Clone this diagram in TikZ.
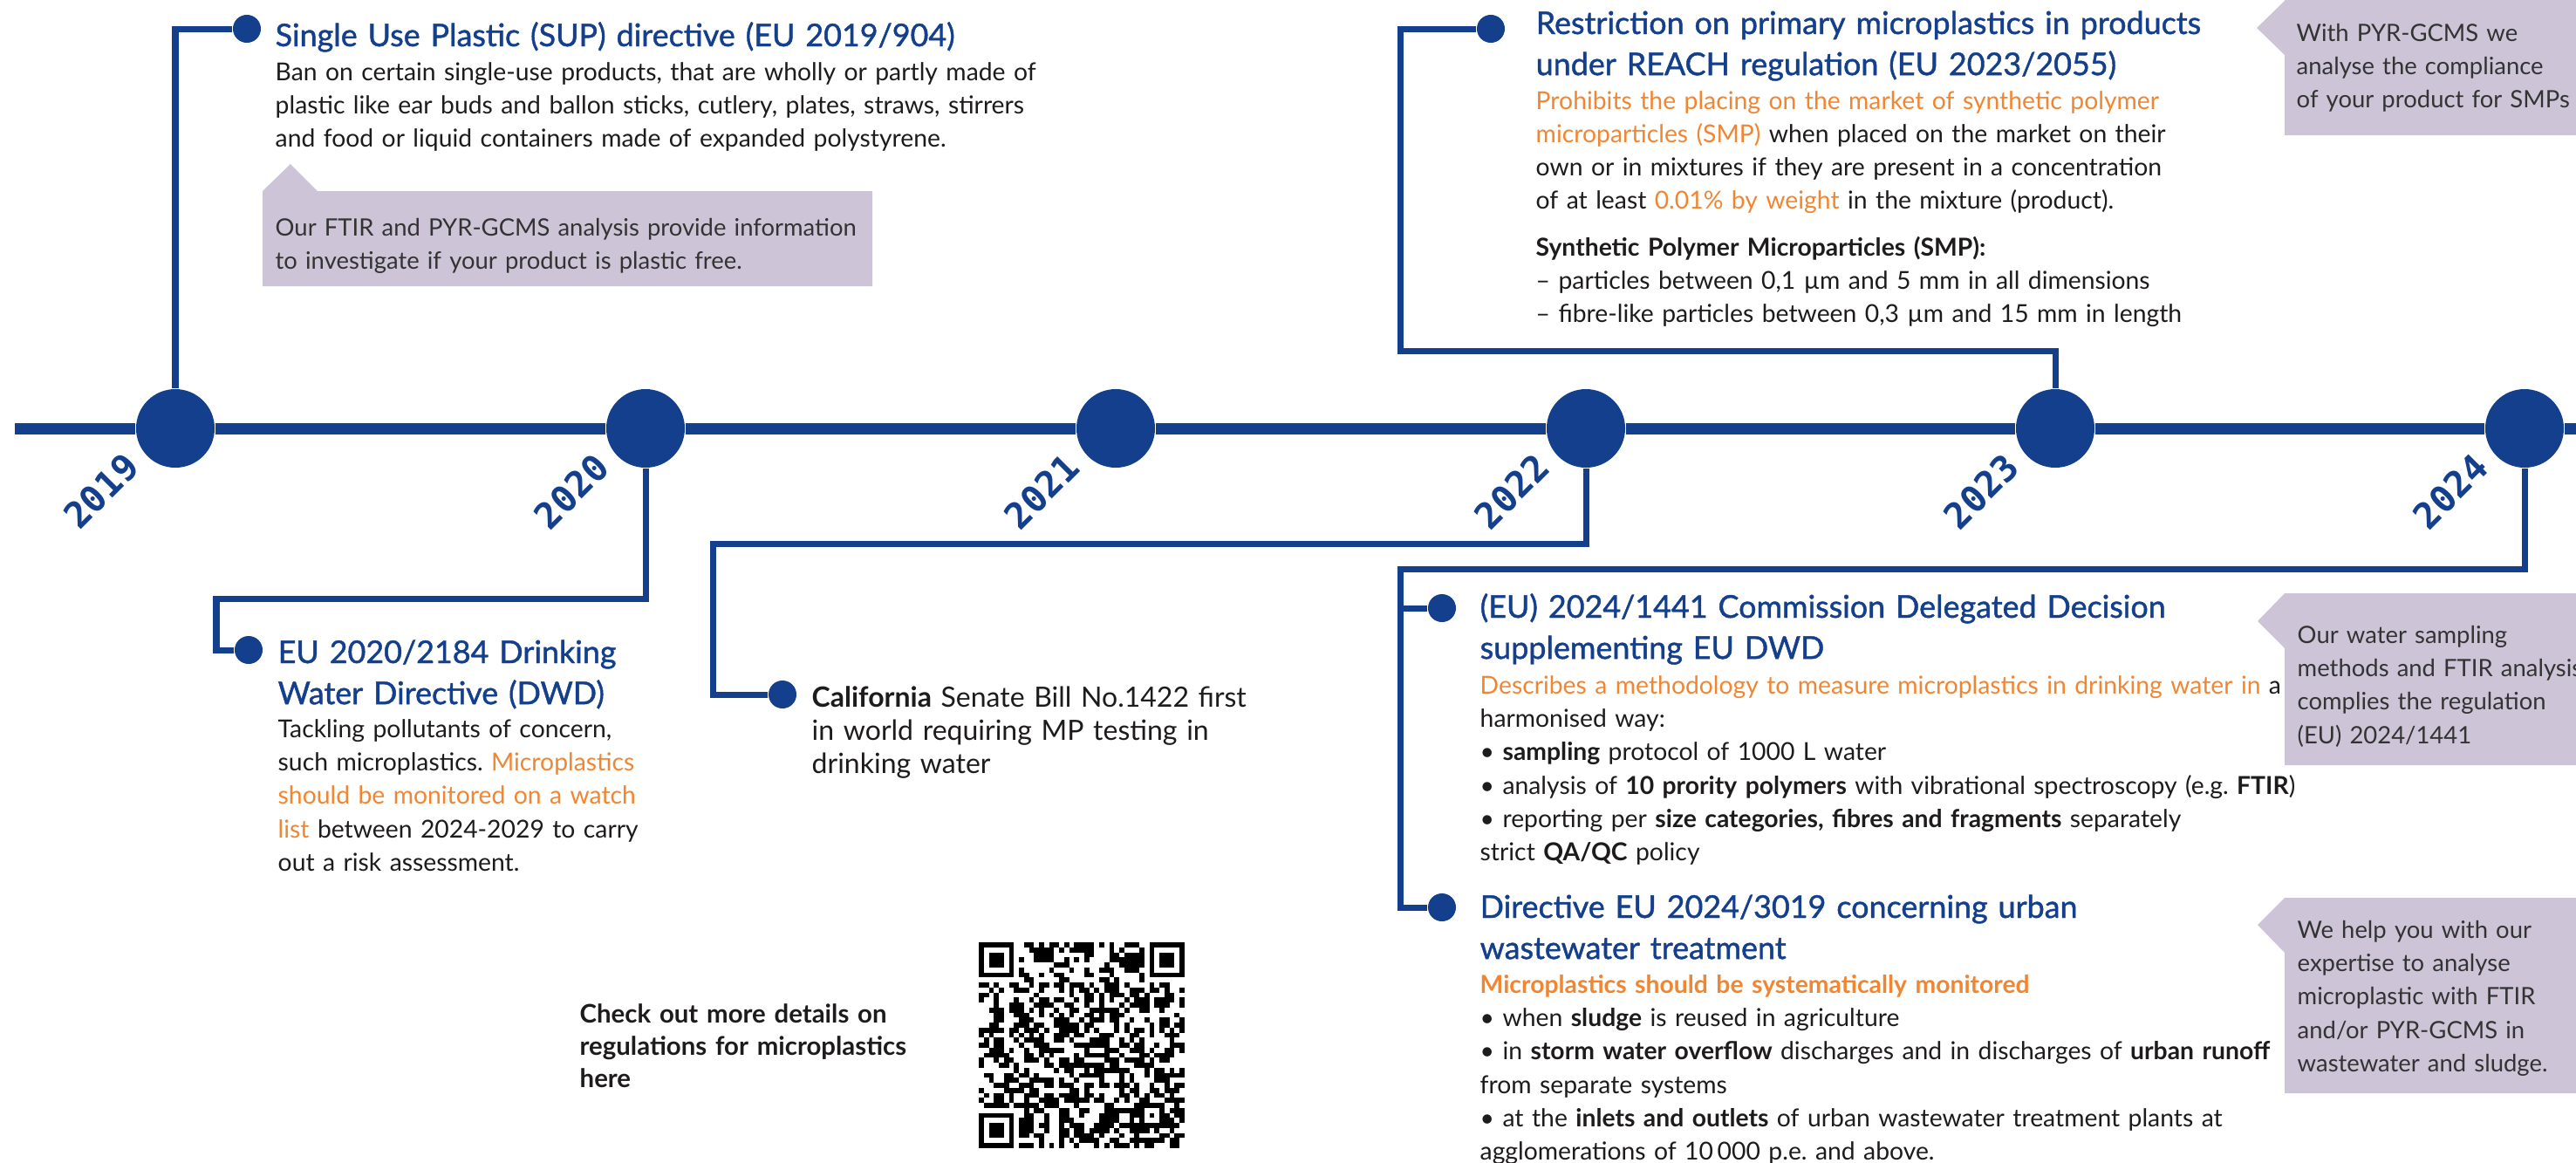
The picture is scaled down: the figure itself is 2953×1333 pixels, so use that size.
\documentclass[tikz,border=0pt]{standalone}
\usepackage{fontspec}
\setmainfont{Lato}
\newfontfamily\headfont{Lato}[FakeBold=1.2, Numbers=Monospaced]
\newfontfamily\yearfont{DejaVu Sans Mono}
\usepackage{xcolor}
\frenchspacing

\definecolor{tlblue}{RGB}{20,63,140}
\definecolor{tlorange}{RGB}{241,134,50}
\definecolor{tlpurple}{RGB}{205,196,216}
\definecolor{tltext}{RGB}{30,27,28}
\definecolor{tlgray}{RGB}{51,51,51}

\tikzset{year/.style = {circle, fill=tlblue, inner sep = 0, minimum size = 0.9cm}}
\tikzset{dot/.style = {circle, fill=tlblue, inner sep = 0, minimum size = 0.32cm}}
\tikzset{axis/.style = {draw=tlblue, line width = 0.13cm}}
\tikzset{conn/.style = {draw=tlblue, line width = 0.07cm}}
\tikzset{yearlabel/.style = {rotate=45, text=tlblue, inner sep = 0,
                             font=\yearfont\bfseries\fontsize{11.8}{13}\selectfont}}
\tikzset{title/.style = {anchor=base west, inner sep = 0, text width=#1, align=left,
                         text=tlblue, font=\headfont\fontsize{10.2}{13.4}\selectfont}}
\tikzset{body/.style = {anchor=base west, inner sep = 0, text width=#1, align=left,
                        text=tltext, font=\fontsize{8.05}{10.9}\selectfont}}
\tikzset{note/.style = {body=#1, text=tlgray, font=\fontsize{7.8}{10.9}\selectfont}}
\newcommand{\hl}[1]{\textcolor{tlorange}{#1}}

\begin{document}
\begin{tikzpicture}[x=0.01cm, y=-0.01cm]
      \useasboundingbox (0,0) rectangle (2953,1333);
      \clip (0,0) rectangle (2953,1333);

      % timeline
      \node [year] (y2019) at (201,491) {};
      \node [year] (y2020) at (740,491) {};
      \node [year] (y2021) at (1279,491) {};
      \node [year] (y2022) at (1818,491) {};
      \node [year] (y2023) at (2356,491) {};
      \node [year] (y2024) at (2894,491) {};
      \coordinate (tlstart) at (17,491);
      \coordinate (tlend) at (2960,491);
      \draw [axis] (tlstart) -- (y2019) -- (y2020) -- (y2021) -- (y2022) -- (y2023) -- (y2024) -- (tlend);

      \node [yearlabel] (l2019) at (116,563) {2019};
      \node [yearlabel] (l2020) at (655,563) {2020};
      \node [yearlabel] (l2021) at (1194,563) {2021};
      \node [yearlabel] (l2022) at (1733,563) {2022};
      \node [yearlabel] (l2023) at (2271,563) {2023};
      \node [yearlabel] (l2024) at (2809,563) {2024};

      % purple notes
      \fill [tlpurple] (301,219) -- (333,188) -- (364,219) -- (1000,219) -- (1000,328) -- (301,328) -- cycle;
      \fill [tlpurple] (2619,1) -- (2587,32) -- (2619,63) -- (2619,155) -- (2960,155) -- (2960,-10) -- (2619,-10) -- cycle;
      \fill [tlpurple] (2619,680) -- (2588,712) -- (2619,743) -- (2619,877) -- (2960,877) -- (2960,680) -- cycle;
      \fill [tlpurple] (2619,1029) -- (2588,1060) -- (2619,1092) -- (2619,1253) -- (2960,1253) -- (2960,1029) -- cycle;

      % 2019
      \node [dot] (dsup) at (283,33) {};
      \draw [conn] (y2019) |- (dsup);
      \node [title=8.6cm] (tsup) at (315,53) {Single Use Plastic (SUP) directive (EU 2019/904)};
      \node [body=9.1cm] (bsup) at (315,92) {Ban on certain single-use products, that are wholly or partly made of\\
        plastic like ear buds and ballon sticks, cutlery, plates, straws, stirrers\\
        and food or liquid containers made of expanded polystyrene.};
      \node [note=6.9cm] (nsup) at (315,270) {Our FTIR and PYR-GCMS analysis provide information\\
        to investigate if your product is plastic free.};

      % 2020
      \node [dot] (ddwd) at (285,745) {};
      \coordinate (k2020) at (248,686);
      \draw [conn] (y2020) |- (k2020) |- (ddwd);
      \node [title=4.3cm] (tdwd) at (318,760) {EU 2020/2184 Drinking\\Water Directive (DWD)};
      \node [body=4.4cm] (bdwd) at (318,845) {Tackling pollutants of concern,\\
        such microplastics. \hl{Microplastics}\\
        \hl{should be monitored on a watch}\\
        \hl{list} between 2024-2029 to carry\\
        out a risk assessment.};

      % 2022
      \node [dot] (dcal) at (897,796) {};
      \coordinate (k2022) at (817,623);
      \draw [conn] (y2022) |- (k2022) |- (dcal);
      \node [body=5.6cm, font=\fontsize{9.1}{10.9}\selectfont] (bcal) at (930,810) {\textbf{California} Senate Bill No.1422 first\\
        in world requiring MP testing in\\
        drinking water};

      % 2023
      \node [dot] (dreach) at (1709,33) {};
      \coordinate (k2023) at (1605,402);
      \draw [conn] (y2023) |- (k2023) |- (dreach);
      \node [title=8.4cm] (treach) at (1760,39) {Restriction on primary microplastics in products\\
        under REACH regulation (EU 2023/2055)};
      \node [body=7.6cm] (breach) at (1760,125) {\hl{Prohibits the placing on the market of synthetic polymer}\\
        \hl{microparticles (SMP)} when placed on the market on their\\
        own or in mixtures if they are present in a concentration\\
        of at least \hl{0.01\% by weight} in the mixture (product).};
      \node [body=7.8cm] (bsmp) at (1760,293) {\textbf{Synthetic Polymer Microparticles (SMP):}\\
        – particles between 0,1 µm and 5 mm in all dimensions\\
        – fibre-like particles between 0,3 µm and 15 mm in length};
      \node [note=3.2cm] (nreach) at (2632,47) {With PYR-GCMS we\\analyse the compliance\\of your product for SMPs};

      % 2024
      \node [dot] (ddec) at (1653,697) {};
      \node [dot] (dwwt) at (1653,1040) {};
      \coordinate (k2024) at (1605,652);
      \draw [conn] (y2024) |- (k2024) |- (dwwt);
      \draw [conn] (k2024) |- (ddec);
      \node [title=8.6cm] (tdec) at (1696,708) {(EU) 2024/1441 Commission Delegated Decision\\supplementing EU DWD};
      \node [body=10cm] (bdec) at (1696,795) {\hl{Describes a methodology to measure microplastics in drinking water in} a\\
        harmonised way:\\
        • \textbf{sampling} protocol of 1000 L water\\
        • analysis of \textbf{10 prority polymers} with vibrational spectroscopy (e.g. \textbf{FTIR})\\
        • reporting per \textbf{size categories, fibres and fragments} separately\\
        strict \textbf{QA/QC} policy};
      \node [note=4.2cm] (ndec) at (2633,737) {Our water sampling\\methods and FTIR analysis\\complies the regulation\\(EU) 2024/1441};

      \node [title=7.4cm] (twwt) at (1696,1052) {Directive EU 2024/3019 concerning urban\\wastewater treatment};
      \node [body=9.6cm] (bwwt) at (1696,1138) {\hl{\textbf{Microplastics should be systematically monitored}}\\
        • when \textbf{sludge} is reused in agriculture\\
        • in \textbf{storm water overflow} discharges and in discharges of \textbf{urban runoff}\\
        from separate systems\\
        • at the \textbf{inlets and outlets} of urban wastewater treatment plants at\\
        agglomerations of 10\,000 p.e. and above.};
      \node [note=3.1cm] (nwwt) at (2633,1075) {We help you with our\\expertise to analyse\\microplastic with FTIR\\and/or PYR-GCMS in\\wastewater and sludge.};

      % qr code
      \node [body=3.9cm, font=\bfseries\fontsize{8.35}{10.6}\selectfont] (qrtext) at (664,1172) {Check out more details on\\
        regulations for microplastics\\here};
      \def\qrm{5.756}
      \pgfmathsetseed{1422}
      \foreach \i in {0,...,40} {
        \foreach \j in {0,...,40} {
          \pgfmathrandominteger{\q}{0}{1}
          \ifnum\q=1 \fill ({1122+\i*\qrm},{1080+\j*\qrm}) rectangle ++(\qrm,\qrm); \fi
        }
      }
      \foreach \fx/\fy in {0/0, 34/0, 0/34} {
        \fill [white] ({1122+(\fx-1)*\qrm},{1080+(\fy-1)*\qrm}) rectangle ++({9*\qrm},{9*\qrm});
        \fill ({1122+\fx*\qrm},{1080+\fy*\qrm}) rectangle ++({7*\qrm},{7*\qrm});
        \fill [white] ({1122+(\fx+1)*\qrm},{1080+(\fy+1)*\qrm}) rectangle ++({5*\qrm},{5*\qrm});
        \fill ({1122+(\fx+2)*\qrm},{1080+(\fy+2)*\qrm}) rectangle ++({3*\qrm},{3*\qrm});
      }
      \fill ({1122+32*\qrm},{1080+32*\qrm}) rectangle ++({5*\qrm},{5*\qrm});
      \fill [white] ({1122+33*\qrm},{1080+33*\qrm}) rectangle ++({3*\qrm},{3*\qrm});
      \fill ({1122+34*\qrm},{1080+34*\qrm}) rectangle ++(\qrm,\qrm);
    \end{tikzpicture}
\end{document}
